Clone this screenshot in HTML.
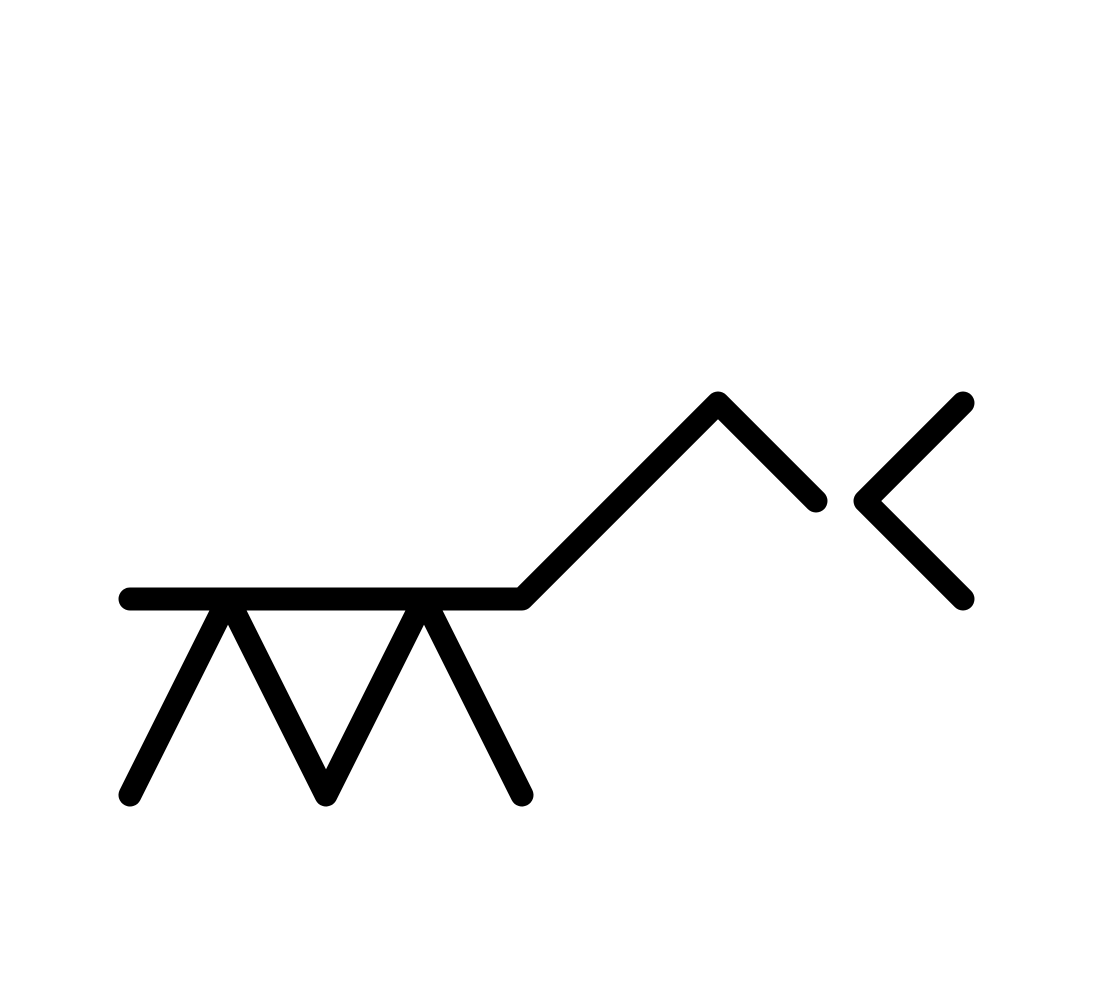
<!DOCTYPE html>
<html><head><meta charset="utf-8"><style>
html,body{margin:0;padding:0;background:#fff;width:1093px;height:1000px;overflow:hidden}
</style></head><body>
<svg id="chart" width="1093" height="1000" viewBox="0 0 1093 1000"></svg>
<script>
const lineNames = ["upper-path", "right-chevron", "zigzag"];
const lineXs = [[0,4,6,7],[8.5,7.5,8.5],[0,1,2,3,4]];
const lineYs = [[2,2,4,3],[4,3,2],[0,2,0,2,0]];
const unit = 98, x0 = 130, y0 = 795;
function sx(v){return x0 + v*unit;}
function sy(v){return y0 - v*unit;}
const svg = document.getElementById('chart');
for (let i=0;i<lineXs.length;i++){
  const p = document.createElementNS('http://www.w3.org/2000/svg','polyline');
  p.setAttribute('points', lineXs[i].map((x,j)=>sx(x)+','+sy(lineYs[i][j])).join(' '));
  p.setAttribute('fill','none');
  p.setAttribute('stroke','#000');
  p.setAttribute('stroke-width','23');
  p.setAttribute('stroke-linecap','round');
  p.setAttribute('stroke-linejoin','round');
  
  
  svg.appendChild(p);
}
</script>
</body></html>
